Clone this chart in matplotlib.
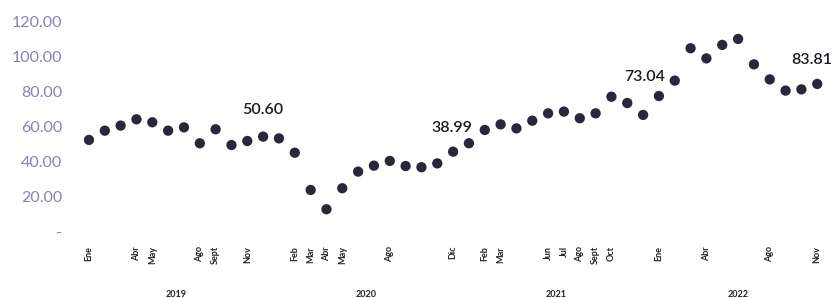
import numpy as np
import matplotlib.pyplot as plt

# 月次データ (2019年1月〜2022年11月)
years = ['2019', '2020', '2021', '2022']
months = ['Ene', 'Feb', 'Mar', 'Abr', 'May', 'Jun',
          'Jul', 'Ago', 'Sept', 'Oct', 'Nov', 'Dic']

values_2019 = [52.6, 57.9, 60.8, 64.4, 62.7, 57.9, 59.8, 50.7, 58.7, 49.7, 52.0, 54.5]
values_2020 = [53.5, 45.3, 24.0, 13.0, 25.0, 34.5, 37.9, 40.6, 37.7, 37.0, 39.2, 45.9]
values_2021 = [50.7, 58.3, 61.5, 59.2, 63.6, 67.8, 68.8, 65.0, 67.8, 77.3, 73.7, 66.9]
values_2022 = [77.7, 86.5, 105.0, 99.2, 106.9, 110.3, 95.8, 87.2, 80.8, 81.5, 84.6]

# 表示する月ラベル
shown_2019 = ['Ene', 'Abr', 'May', 'Ago', 'Sept', 'Nov']
shown_2020 = ['Feb', 'Mar', 'Abr', 'May', 'Ago', 'Dic']
shown_2021 = ['Feb', 'Mar', 'Jun', 'Jul', 'Ago', 'Sept', 'Oct']
shown_2022 = ['Ene', 'Abr', 'Ago', 'Nov']

# 注記ラベル (年末の値)
note_labels = ['50.60', '38.99', '73.04', '83.81']
note_index = [11, 23, 35, 46]
note_offset = [(0, 19), (-1, 17), (1, 27), (-4, 17)]  # points

series = [values_2019, values_2020, values_2021, values_2022]
shown = [shown_2019, shown_2020, shown_2021, shown_2022]

values = np.concatenate(series)
x = np.arange(len(values))

tick_labels = []
for vals, keep in zip(series, shown):
    for m in months[:len(vals)]:
        tick_labels.append(m if m in keep else '')

fig = plt.figure(figsize=(8.36, 2.98), dpi=100)
ax = fig.add_axes([0.0875, 0.2215, 0.909, 0.7047])

ax.scatter(x, values, s=55, color='#2a2838', edgecolors='none', zorder=3)

for lab, idx, off in zip(note_labels, note_index, note_offset):
    ax.annotate(lab, (x[idx], values[idx]), xytext=off, textcoords='offset points',
                ha='center', va='center', fontsize=11.5, fontweight='semibold',
                family='Lato', color='#1a1a22')

ax.set_xlim(-1, 47)
ax.set_ylim(0, 120)
ax.set_yticks([0, 20, 40, 60, 80, 100, 120])
ax.set_yticklabels(['-', '20.00', '40.00', '60.00', '80.00', '100.00', '120.00'],
                   family='Lato', fontsize=11.5, color='#8a80b3')
ax.set_xticks(x)
ax.set_xticklabels(tick_labels, rotation=90, fontsize=6.5, fontweight='bold',
                   family='Lato', color='#222222')
ax.tick_params(axis='both', length=0)
ax.tick_params(axis='y', pad=8)
ax.tick_params(axis='x', pad=10)

for s in ax.spines.values():
    s.set_visible(False)

# 年ラベル
start = 0
for yr, vals in zip(years, series):
    centre = start + (len(vals) - 1) / 2
    ax.text(centre, -0.3, yr, transform=ax.get_xaxis_transform(),
            ha='center', va='center', fontsize=6.5, fontweight='bold',
            family='Lato', color='#222222')
    start += len(vals)

fig.savefig('out.png', dpi=100)
